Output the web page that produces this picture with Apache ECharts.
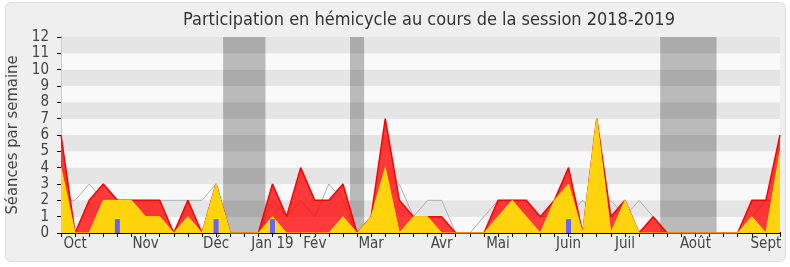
<!DOCTYPE html>
<html>
<head>
<meta charset="utf-8">
<script src="https://cdn.jsdelivr.net/npm/echarts@6/dist/echarts.min.js"></script>
<style>
html,body{margin:0;padding:0;background:#ffffff;overflow:hidden;}
#box{position:absolute;left:5px;top:2px;width:779px;height:258px;background:#efefef;border:1px solid #e0e0e0;border-radius:6px;}
#chart{position:absolute;left:0;top:0;width:790px;height:267px;}
</style>
</head>
<body>
<div id="box"></div>
<div id="chart"></div>
<script>
// Weekly data, session 2018-2019 (52 weeks)
const redValues = [6,0,2,3,2,2,2,2,0,2,0,3,0,0,0,3,1,4,2,2,3,0,1,7,2,1,1,1,0,0,0,2,2,2,1,2,4,0,7,1,2,0,1,0,0,0,0,0,0,2,2,6];
const yellowValues = [4,0,0,2,2,2,1,1,0,1,0,3,0,0,0,1,0,0,0,0,1,0,1,4,0,1,1,0,0,0,0,1,2,1,0,2,3,0,7,0,2,0,0,0,0,0,0,0,0,1,0,5];
const greyValues = [2,2,3,2,2,2,2,2,2,2,2,3,0,0,0,2,1,2,1,3,2,0,1,2,3,1,2,2,0,0,1,2,2,2,1,1,1,2,1,2,1,2,1,0,0,0,0,0,0,1,2,2];
const blueWeeks = [4,11,15,36];
const blueValues = [0.85,0.85,0.85,0.85];
const monthIdx = [1,6,11,15,18,22,27,31,36,40,45,50];
const monthNames = ['Oct','Nov','Déc','Jan 19','Fév','Mar','Avr','Mai','Juin','Juil','Août','Sept'];
const breakStart = [11.5,20.5,42.5];
const breakEnd = [14.5,21.5,46.5];
const yTicks = [0,12];

const FONT = '"DejaVu Sans Condensed","DejaVu Sans",sans-serif';
const toPairs = arr => arr.map((v,i)=>[i,v]);
const nWeeks = redValues.length - 1;

const chart = echarts.init(document.getElementById('chart'), null, {renderer:'canvas'});
chart.setOption({
  animation:false,
  backgroundColor:'transparent',
  title:{
    text:'Participation en hémicycle au cours de la session 2018-2019',
    left:178, top:6,
    textStyle:{fontFamily:FONT,fontSize:18,fontWeight:'normal',color:'#333'}
  },
  grid:{left:61,right:10,top:37,bottom:34,containLabel:false,outerBoundsMode:'none'},
  xAxis:[{
    type:'value',min:0,max:nWeeks,interval:1,
    axisLine:{show:true,onZero:false,lineStyle:{color:'#000',width:1}},
    axisTick:{show:true,length:4,lineStyle:{color:'#000'}},
    splitLine:{show:false},
    axisLabel:{
      margin:4,fontFamily:FONT,fontSize:15,color:'#444',
      formatter:function(v){const k=monthIdx.indexOf(Math.round(v));return k>=0?monthNames[k]:'';}
    }
  },{
    type:'value',position:'top',min:0,max:nWeeks,interval:1,
    axisLine:{show:false},
    axisTick:{show:true,length:1,lineStyle:{color:'#000'}},
    axisLabel:{show:false},splitLine:{show:false}
  }],
  yAxis:[{
    type:'value',min:yTicks[0],max:yTicks[1],interval:1,
    name:'Séances par semaine',nameLocation:'middle',nameGap:40,nameRotate:90,
    nameTextStyle:{fontFamily:FONT,fontSize:16.5,color:'#444'},
    axisLine:{show:true,lineStyle:{color:'#000'}},
    axisTick:{show:true,length:4,lineStyle:{color:'#000'}},
    axisLabel:{margin:12,fontFamily:FONT,fontSize:15,color:'#444'},
    splitLine:{show:false},
    splitArea:{show:true,areaStyle:{color:['#f9f9f9','#e5e5e5']}}
  },{
    type:'value',position:'right',min:yTicks[0],max:yTicks[1],interval:1,
    axisLine:{show:true,lineStyle:{color:'#cccccc'}},
    axisTick:{show:false},axisLabel:{show:false},splitLine:{show:false}
  }],
  series:[
    {
      type:'line',data:[],z:1,silent:true,
      markArea:{silent:true,itemStyle:{color:'rgba(0,0,0,0.25)'},
        data:breakStart.map((s,i)=>[{xAxis:s},{xAxis:breakEnd[i]}])}
    },
    {
      name:'median',type:'line',data:toPairs(greyValues),z:2,symbol:'none',
      lineStyle:{color:'#b0b0b0',width:1}
    },
    {
      name:'presence',type:'line',data:toPairs(redValues),z:3,symbol:'none',
      lineStyle:{color:'#ff0000',width:1.5},
      areaStyle:{color:'#ff0000',opacity:0.77,origin:'start'}
    },
    {
      name:'interventions',type:'line',data:toPairs(yellowValues),z:4,symbol:'none',
      lineStyle:{color:'#ffe000',width:1},
      areaStyle:{color:'#ffd40d',opacity:1,origin:'start'}
    },
    {
      name:'questions',type:'bar',data:blueWeeks.map((w,i)=>[w,blueValues[i]]),z:5,
      barWidth:5,itemStyle:{color:'#6464ff'}
    }
  ]
});
</script>
</body>
</html>
